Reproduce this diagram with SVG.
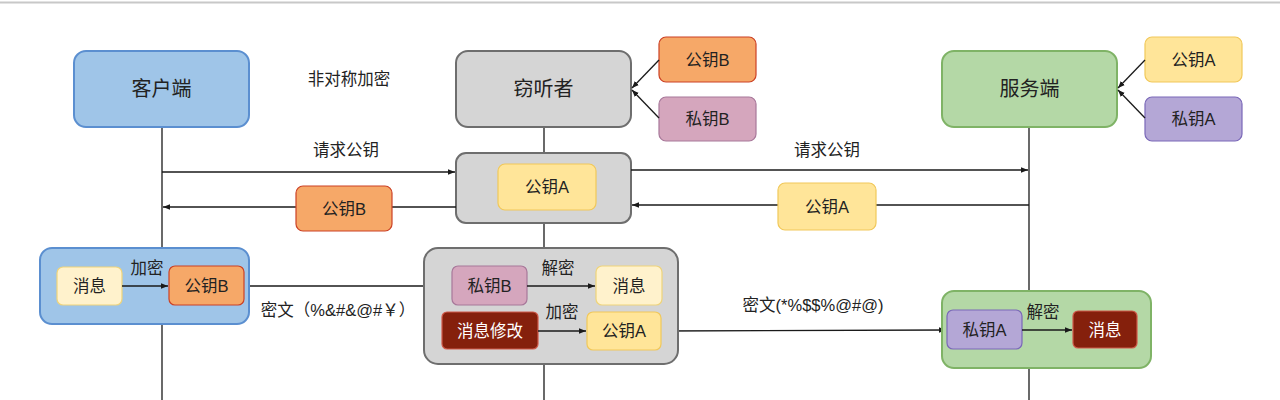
<svg xmlns="http://www.w3.org/2000/svg" width="1280" height="400" viewBox="0 0 1280 400">
<style>
text{font-family:"Liberation Sans","Noto Sans CJK SC",sans-serif;fill:#222;text-anchor:middle;dominant-baseline:central}
.t{font-size:20px}
.s{font-size:16.5px}
.w{fill:#fff}
.blue{fill:#9fc5e8;stroke:#5b8fd0;stroke-width:2}
.gray{fill:#d5d5d5;stroke:#6e6e6e;stroke-width:2}
.green{fill:#b4d8a6;stroke:#7fb366;stroke-width:2}
.orange{fill:#f6a868;stroke:#cc4125;stroke-width:1.2}
.pink{fill:#d5a6bd;stroke:#a8789a;stroke-width:1.2}
.yellow{fill:#ffe599;stroke:#f1c85a;stroke-width:1.2}
.lyellow{fill:#fff2cc;stroke:#efd47a;stroke-width:1.2}
.purple{fill:#b4a7d6;stroke:#7a68b8;stroke-width:1.2}
.red{fill:#85200c;stroke:#d05a4a;stroke-width:1.2}
.ln{stroke:#1a1a1a;stroke-width:1.3;fill:none}
</style>
<defs>
<marker id="ah" viewBox="0 0 10 10" refX="10" refY="5" markerWidth="7" markerHeight="7" orient="auto" markerUnits="userSpaceOnUse">
<path d="M0,1 L10,5 L0,9 z" fill="#1a1a1a"/>
</marker>
</defs>
<rect x="0" y="0" width="1280" height="400" fill="#fff"/>
<line x1="0" y1="2.5" x2="1280" y2="2.5" stroke="#c8c8c8" stroke-width="2"/>

<g id="lifelines" class="ln">
<line x1="162" y1="127" x2="162" y2="400"/>
<line x1="544" y1="127" x2="544" y2="153"/>
<line x1="544" y1="223" x2="544" y2="248"/>
<line x1="544" y1="364" x2="544" y2="400"/>
<line x1="1029" y1="127" x2="1029" y2="400"/>
</g>

<g id="client"><rect class="blue" x="74" y="51" width="175" height="76" rx="12"/><text class="t" x="161.5" y="89">客户端</text></g>
<g id="eavesdropper"><rect class="gray" x="456" y="51" width="175" height="76" rx="12"/><text class="t" x="543.5" y="89">窃听者</text></g>
<g id="server"><rect class="green" x="942" y="51" width="175" height="76" rx="12"/><text class="t" x="1029.5" y="89">服务端</text></g>
<text class="s" x="349" y="79">非对称加密</text>

<g id="pubB-top"><rect class="orange" x="659" y="37" width="97" height="45" rx="7"/><text class="s" x="707.5" y="59.5">公钥B</text></g>
<g id="privB-top"><rect class="pink" x="659" y="97" width="97" height="44" rx="7"/><text class="s" x="707.5" y="119">私钥B</text></g>
<g id="pubA-top"><rect class="yellow" x="1145" y="37" width="97" height="45" rx="7"/><text class="s" x="1193.5" y="59.5">公钥A</text></g>
<g id="privA-top"><rect class="purple" x="1145" y="97" width="97" height="44" rx="7"/><text class="s" x="1193.5" y="119">私钥A</text></g>

<g id="eaves-mid"><rect class="gray" x="456" y="153" width="175" height="70" rx="10"/>
<rect class="yellow" x="498" y="164" width="98" height="46" rx="7"/><text class="s" x="547" y="187">公钥A</text></g>

<g id="connectors" class="ln">
<line x1="659" y1="60" x2="632" y2="88" marker-end="url(#ah)"/>
<line x1="659" y1="118" x2="632" y2="90" marker-end="url(#ah)"/>
<line x1="1145" y1="60" x2="1118" y2="88" marker-end="url(#ah)"/>
<line x1="1145" y1="118" x2="1118" y2="90" marker-end="url(#ah)"/>
<line x1="162" y1="172" x2="455" y2="172" marker-end="url(#ah)"/>
<line x1="456" y1="207" x2="163" y2="207" marker-end="url(#ah)"/>
<line x1="631" y1="170" x2="1028" y2="170" marker-end="url(#ah)"/>
<line x1="1029" y1="205" x2="632" y2="205" marker-end="url(#ah)"/>
<line x1="244" y1="286" x2="452" y2="286" marker-end="url(#ah)"/>
<line x1="661" y1="331" x2="946" y2="330" marker-end="url(#ah)"/>
</g>
<text class="s" x="346" y="150">请求公钥</text>
<text class="s" x="827" y="150">请求公钥</text>
<g id="msg-pubB"><rect class="orange" x="296" y="186" width="96" height="45" rx="7"/><text class="s" x="344" y="208.5">公钥B</text></g>
<g id="msg-pubA"><rect class="yellow" x="778" y="183" width="98" height="47" rx="7"/><text class="s" x="827" y="206.5">公钥A</text></g>

<g id="client-encrypt">
<rect class="blue" x="40" y="248" width="209" height="76" rx="12"/>
<rect class="lyellow" x="57" y="267" width="65" height="38" rx="6"/><text class="s" x="89.5" y="286">消息</text>
<rect class="orange" x="169" y="266" width="75" height="39" rx="6"/><text class="s" x="206.5" y="285.5">公钥B</text>
<line class="ln" x1="122" y1="286" x2="168" y2="286" marker-end="url(#ah)"/>
<text class="s" x="147" y="268">加密</text>
</g>
<text class="s" x="338" y="310">密文（%&amp;#&amp;@#￥）</text>

<g id="eaves-bottom">
<rect class="gray" x="424" y="248" width="254" height="116" rx="14"/>
<rect class="pink" x="452" y="266" width="75" height="39" rx="6"/><text class="s" x="489.5" y="285.5">私钥B</text>
<rect class="lyellow" x="596" y="266" width="66" height="39" rx="6"/><text class="s" x="629" y="285.5">消息</text>
<line class="ln" x1="527" y1="286" x2="595" y2="286" marker-end="url(#ah)"/>
<text class="s" x="558" y="268">解密</text>
<rect class="red" x="442" y="312" width="96" height="37" rx="5"/><text class="s w" x="490" y="330.5">消息修改</text>
<rect class="yellow" x="587" y="312" width="74" height="38" rx="6"/><text class="s" x="624" y="331">公钥A</text>
<line class="ln" x1="538" y1="331" x2="586" y2="331" marker-end="url(#ah)"/>
<text class="s" x="562" y="312">加密</text>
</g>
<text class="s" x="813" y="305">密文(*%$$%@#@)</text>

<g id="server-decrypt">
<rect class="green" x="942" y="291" width="209" height="77" rx="12"/>
<rect class="purple" x="947" y="310" width="75" height="39" rx="6"/><text class="s" x="984.5" y="329.5">私钥A</text>
<rect class="red" x="1073" y="311" width="64" height="37" rx="5"/><text class="s w" x="1105" y="329.5">消息</text>
<line class="ln" x1="1022" y1="330" x2="1072" y2="330" marker-end="url(#ah)"/>
<text class="s" x="1043" y="312">解密</text>
</g>
</svg>
